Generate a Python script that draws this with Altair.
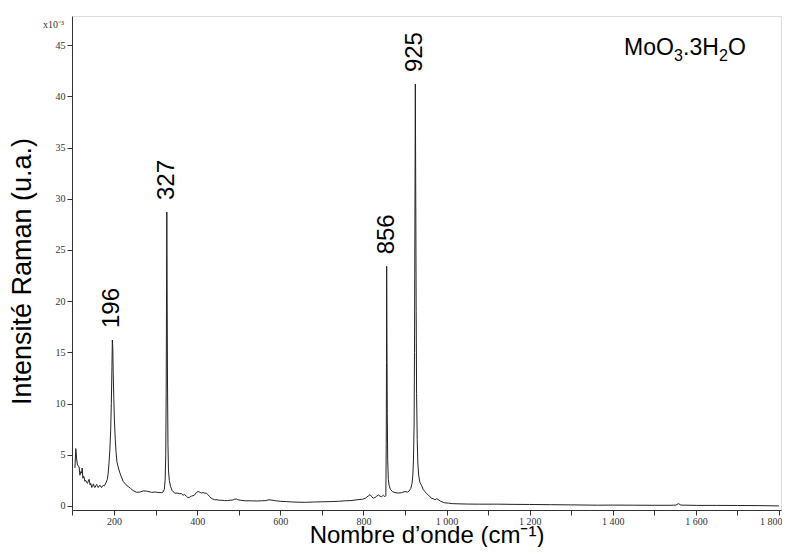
import altair as alt
import pandas as pd

# Raman spectrum of MoO3.3H2O (intensity in units of 1e-3)
wavenumber = [106, 108, 110, 112, 114, 116, 118, 120, 122, 123.5, 125, 127, 128, 130, 132, 134, 136, 138, 140,
              142.5, 144, 146.5, 148.5, 150.5, 152.5, 154.5, 156.5, 158.5, 160, 162, 164, 166.5, 168.5, 170.5,
              172, 174, 177, 181, 184, 186, 188, 190, 192, 193.5, 195, 196, 197, 198, 199.5, 201, 203, 205,
              207, 210, 212, 216, 222, 228, 234, 240, 246, 254, 262, 270, 278, 290, 300, 308, 314, 318, 321,
              323, 324.5, 325.5, 326.3, 327, 327.8, 328.7, 329.8, 331, 333, 336, 340, 346, 352, 358, 362, 366,
              370, 374, 378, 382, 386, 390, 394, 398, 402, 406, 410, 414, 418, 422, 426, 430, 436, 442, 448,
              454, 460, 466, 473, 480, 486, 490, 494, 498, 505, 515, 525, 533, 545, 555, 565, 573, 580, 589,
              600, 615, 630, 645, 660, 680, 700, 720, 740, 757, 770, 785, 798, 805, 812, 816, 820, 824, 828,
              832, 836, 840, 844, 848, 852, 854, 855, 855.6, 856, 856.6, 857.5, 858.5, 860, 862, 865, 870, 876,
              884, 892, 900, 906, 910, 914, 917, 919, 920.5, 922, 923, 924, 925, 926, 927, 928, 929.5, 931,
              933, 936, 940, 944, 948, 952, 956, 960, 964, 968, 972, 976, 980, 986, 992, 996, 1005, 1015,
              1030, 1050, 1080, 1123, 1160, 1200, 1250, 1300, 1363, 1400, 1450, 1500, 1540, 1552, 1558, 1564,
              1602, 1650, 1700, 1750, 1800]
intensity = [3.7, 5.6, 4.6, 4.0, 3.9, 3.8, 3.0, 3.35, 3.2, 3.7, 2.7, 2.9, 2.8, 2.4, 2.5, 2.3, 2.2, 2.4, 2.6,
             2.05, 2.2, 1.8, 2.0, 2.15, 1.85, 1.8, 2.0, 2.1, 1.9, 1.8, 1.95, 2.0, 1.85, 1.8,
             1.95, 2.0, 1.95, 2.3, 2.6, 3.2, 4.2, 5.5, 7.4, 10.0, 13.5, 16.2, 15.5, 13.0, 10.5, 8.3, 6.5, 5.2,
             4.3, 3.8, 3.5, 3.0, 2.4, 2.1, 1.9, 1.7, 1.5, 1.33, 1.35, 1.46, 1.45, 1.33, 1.35, 1.3, 1.3, 1.35, 1.6,
             2.5, 5.0, 11.0, 20.0, 28.7, 21.0, 12.0, 6.0, 3.5, 2.5, 1.9, 1.5, 1.24, 1.25, 1.2, 1.2, 1.05,
             1.1, 0.95, 0.8, 0.85, 0.95, 1.0, 1.07, 1.3, 1.4, 1.35, 1.25, 1.3, 1.25, 1.24, 1.1, 0.9, 0.7, 0.6, 0.6,
             0.55, 0.55, 0.52, 0.52, 0.55, 0.58, 0.65, 0.68, 0.6, 0.55, 0.5, 0.5, 0.49, 0.48, 0.5, 0.52, 0.6, 0.56, 0.5,
             0.45, 0.42, 0.38, 0.36, 0.35, 0.38, 0.4, 0.42, 0.45, 0.5, 0.52, 0.6, 0.65, 0.75, 0.98, 1.1, 0.9, 0.75, 0.82,
             0.95, 1.07, 0.95, 0.9, 1.05, 0.9, 1.0, 6.0, 14.0, 23.4, 17.0, 9.0, 4.5, 2.6, 2.0, 1.6, 1.4, 1.3,
             1.25, 1.3, 1.4, 1.35, 1.45, 1.7, 2.2, 3.0, 4.5, 8.0, 15.0, 28.0, 41.2, 30.0, 19.0, 11.0, 6.5, 4.2,
             3.0, 2.3, 2.0, 1.6, 1.4, 1.2, 1.07, 0.9, 0.75, 0.7, 0.6, 0.7, 0.62, 0.45, 0.35, 0.3, 0.27, 0.22,
             0.2, 0.18, 0.17, 0.17, 0.15, 0.14, 0.12, 0.1, 0.07, 0.08, 0.07, 0.06, 0.06, 0.08, 0.22, 0.08,
             0.05, 0.05, 0.04, 0.03, 0.0]

peak_positions = [196, 327, 856, 925]
peak_heights = [16.2, 28.7, 23.4, 41.2]
peak_labels = ["196", "327", "856", "925"]

# sample name "MoO3.3H2O" split into normal / subscript pieces
name_parts = ["MoO", "3", ".3H", "2", "O"]
name_is_sub = [False, True, False, True, False]

exponent_label = ["x10⁻³"]
exponent_at = [47.5]

x_ticks = list(range(100, 1801, 100))
y_ticks = [i * 2.5 for i in range(20)]

spectrum = pd.DataFrame({"wn": wavenumber, "I": intensity})
peaks = pd.DataFrame({"wn": peak_positions, "I": peak_heights, "label": peak_labels})
expo = pd.DataFrame({"t": exponent_label, "I": exponent_at})

SANS = "Liberation Sans"
SERIF = "Liberation Serif"

x_scale = alt.Scale(domain=[98.9, 1804.8], nice=False, zero=False)
y_scale = alt.Scale(domain=[-0.4, 47.85], nice=False, zero=False)

x_axis = alt.Axis(
    title="Nombre d’onde (cm⁻¹)",
    values=x_ticks,
    labelExpr="datum.value % 200 == 0 ? replace(format(datum.value, ','), ',', ' ') : ''",
    labelFont=SERIF, labelFontSize=10, labelColor="#333", labelPadding=1,
    labelFlush=6, labelFlushOffset=3, labelOverlap=False,
    tickSize=5, tickColor="#333", domainColor="#333", grid=False,
    titleFont=SANS, titleFontSize=24, titleFontWeight="normal", titleColor="#000",
    titleBaseline="alphabetic", titleY=32,
)
y_axis = alt.Axis(
    title="Intensité Raman (u.a.)",
    values=y_ticks,
    labelExpr="datum.value % 5 == 0 ? format(datum.value, 'd') : ''",
    labelFont=SERIF, labelFontSize=10, labelColor="#333", labelPadding=2,
    labelFlush=False, labelOverlap=False,
    tickSize=5, tickColor="#333", domainColor="#333", grid=False,
    titleFont=SANS, titleFontSize=27, titleFontWeight="normal", titleColor="#000",
    titleX=-36, titleY=255,
)

line = alt.Chart(spectrum).mark_line(color="#222", strokeWidth=1, clip=True).encode(
    x=alt.X("wn:Q", scale=x_scale, axis=x_axis),
    y=alt.Y("I:Q", scale=y_scale, axis=y_axis),
)

labels = alt.Chart(peaks).mark_text(
    angle=270, align="left", baseline="middle", dx=12,
    font=SANS, fontSize=24, color="#000",
).encode(
    x=alt.X("wn:Q", scale=x_scale),
    y=alt.Y("I:Q", scale=y_scale),
    text="label:N",
)

expo_text = alt.Chart(expo).mark_text(
    align="right", baseline="middle", dy=5, font=SERIF, fontSize=10, color="#333",
).encode(
    x=alt.value(-8),
    y=alt.Y("I:Q", scale=y_scale),
    text="t:N",
)

# legend-like sample name, pieces placed one after another
piece_x = [552, 602, 611, 647, 656]
name_layers = []
for part, sub, px in zip(name_parts, name_is_sub, piece_x):
    name_layers.append(
        alt.Chart(pd.DataFrame({"t": [part]})).mark_text(
            align="left", baseline="alphabetic", font=SANS,
            fontSize=16 if sub else 23, color="#000",
        ).encode(x=alt.value(px), y=alt.value(45 if sub else 39), text="t:N")
    )

chart = alt.layer(line, labels, expo_text, *name_layers).properties(
    width=709,
    height=494,
    padding={"left": 64, "top": 8, "right": 1, "bottom": 37},
    autosize=alt.AutoSizeParams(type="none"),
).configure_view(stroke="#444", strokeWidth=1).configure(background="white")

chart.save("out.html", embed_options={"renderer": "svg", "actions": False})
